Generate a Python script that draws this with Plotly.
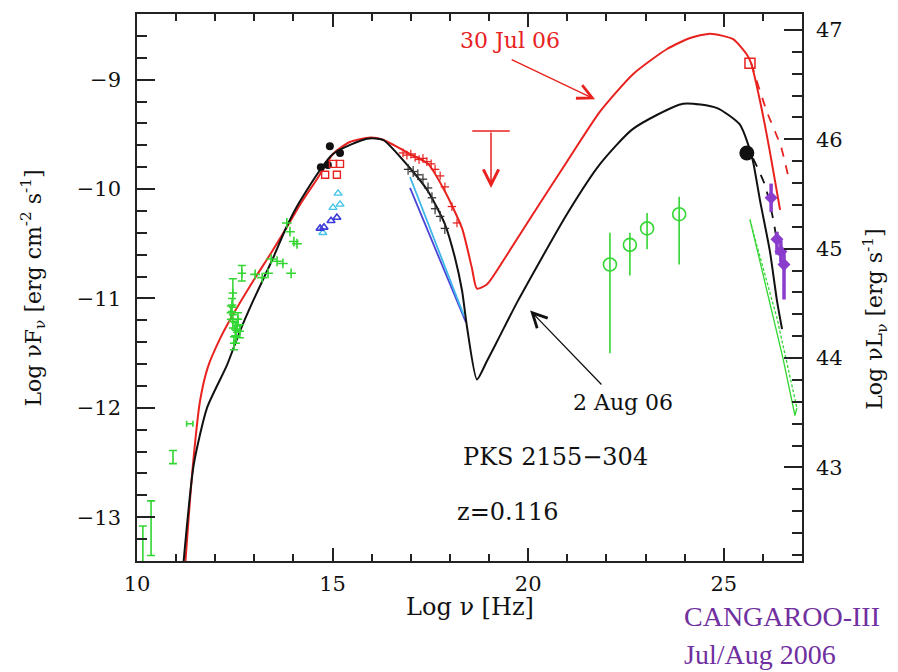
import plotly.graph_objects as go

# ---------------- model curves (log nu [Hz], log nuFnu [erg cm^-2 s^-1]) ----------------
jul30_x = [11.23, 11.41, 11.61, 11.81, 12.12, 12.45, 12.97, 13.40, 13.83, 14.17, 14.60, 15.01,
           15.44, 15.96, 16.29, 16.98, 17.44, 17.87, 18.31, 18.56, 18.69, 18.95, 19.46, 20.12,
           20.99, 21.84, 22.68, 23.55, 24.14, 24.65, 25.24, 25.59, 25.70, 25.93, 26.18, 26.44]
jul30_y = [-13.45, -12.60, -11.94, -11.63, -11.37, -11.15, -10.84, -10.60, -10.35, -10.14, -9.91, -9.68,
           -9.57, -9.53, -9.55, -9.68, -9.77, -10.02, -10.36, -10.72, -10.91, -10.87, -10.60, -10.23,
           -9.75, -9.29, -8.95, -8.72, -8.62, -8.58, -8.63, -8.77, -8.85, -9.20, -9.66, -10.19]
jul30_dash_x = [25.70, 26.10, 26.46, 26.64]
jul30_dash_y = [-8.85, -9.29, -9.61, -9.87]

aug2_x = [11.18, 11.45, 11.79, 12.30, 12.63, 12.97, 13.48, 13.83, 14.17, 15.01, 15.88, 16.29,
          16.98, 17.44, 17.87, 18.13, 18.31, 18.44, 18.69, 18.95, 19.28, 19.74, 20.99, 21.84,
          22.68, 23.96, 24.83, 25.41, 25.64, 25.75, 25.93, 26.18, 26.36, 26.49]
aug2_y = [-13.45, -12.52, -12.00, -11.61, -11.30, -11.02, -10.63, -10.34, -10.11, -9.68, -9.54, -9.55,
          -9.81, -10.02, -10.32, -10.63, -10.93, -11.27, -11.74, -11.57, -11.34, -11.02, -10.23, -9.77,
          -9.45, -9.22, -9.26, -9.41, -9.61, -9.75, -10.11, -10.57, -11.02, -11.28]
aug2_dash_x = [25.75, 26.05, 26.26, 26.36]
aug2_dash_y = [-9.72, -9.96, -10.27, -10.48]

# X-ray power-law fits
xfit_blue_x = [16.98, 18.41]
xfit_blue_y = [-9.99, -11.22]
xfit_cyan_x = [16.98, 18.36]
xfit_cyan_y = [-9.89, -11.16]

# ---------------- data points ----------------
radio_x = [10.15, 10.36, 10.92]
radio_y = [-13.26, -13.10, -12.45]
radio_err = [0.18, 0.25, 0.06]
mm_x = [11.35]
mm_y = [-12.145]
mm_xerr = [0.08]

ir_bar_x = [12.45, 12.68, 12.40, 12.45, 12.51, 12.53, 12.58, 12.43, 12.63, 12.48, 12.56]
ir_bar_y = [-10.95, -10.77, -11.13, -11.21, -11.28, -11.35, -11.19, -11.06, -11.30, -11.41, -11.25]
ir_bar_err = [0.13, 0.07, 0.06, 0.06, 0.06, 0.06, 0.06, 0.06, 0.06, 0.06, 0.06]

ir_x = [13.02, 13.20, 13.35, 13.43, 13.58, 13.73, 13.83, 13.91, 14.01, 14.09, 13.94]
ir_y = [-10.78, -10.81, -10.77, -10.64, -10.66, -10.68, -10.31, -10.39, -10.48, -10.50, -10.77]

opt_aug_x = [14.93, 15.19, 14.70, 14.88]
opt_aug_y = [-9.61, -9.67, -9.80, -9.78]
opt_jul_x = [14.81, 15.11, 15.01, 15.19]
opt_jul_y = [-9.87, -9.87, -9.77, -9.77]

uv_cyan_x = [15.14, 15.19, 15.01, 14.75]
uv_cyan_y = [-10.04, -10.14, -10.17, -10.40]
uv_blue_x = [15.11, 14.96, 14.78, 14.68]
uv_blue_y = [-10.26, -10.29, -10.35, -10.36]

xr_jul_x = [16.80, 16.90, 17.00, 17.11, 17.21, 17.31, 17.41, 17.52, 17.62, 17.75, 17.87, 18.05, 18.18]
xr_jul_y = [-9.67, -9.69, -9.68, -9.71, -9.73, -9.72, -9.75, -9.77, -9.82, -9.88, -9.98, -10.16, -10.31]
xr_aug_x = [16.93, 17.06, 17.18, 17.31, 17.44, 17.54, 17.62, 17.75, 17.87]
xr_aug_y = [-9.82, -9.84, -9.87, -9.91, -9.99, -10.08, -10.18, -10.25, -10.36]

ul_x, ul_y, ul_halfwidth, ul_arrow_to = 19.05, -9.47, 0.48, -9.99

gev_x = [22.09, 22.60, 23.04, 23.86]
gev_y = [-10.69, -10.51, -10.36, -10.23]
gev_up = [0.29, 0.11, 0.14, 0.16]
gev_dn = [0.81, 0.28, 0.19, 0.46]

# TeV bowtie: outer (solid) and inner (dashed) edges
bowtie_outer_x = [25.67, 26.51, 26.82, 26.87]
bowtie_outer_y = [-10.28, -11.54, -12.07, -12.00]
bowtie_inner_x = [25.67, 25.75, 26.36, 26.87]
bowtie_inner_y = [-10.28, -10.39, -11.18, -12.00]

tev_x = [26.21, 26.36, 26.46, 26.54]
tev_y = [-10.08, -10.46, -10.57, -10.69]
tev_up = [0.13, 0.07, 0.10, 0.14]
tev_dn = [0.13, 0.14, 0.10, 0.32]

hess_aug_x, hess_aug_y = [25.59], [-9.67]
hess_jul_x, hess_jul_y = [25.67], [-8.85]

# axis scales: log nuL_nu = log nuF_nu + offset
lum_offset = 55.545
x_range = [10, 27]
y_range = [-13.4, -8.4]

RED = "#e8221f"
BLACK = "#111111"
GREEN = "#33d633"
PURPLE = "#8a3dcc"
FONT = "DejaVu Serif"

fig = go.Figure()

def line(x, y, color, width=2.0, dash="solid", shape="spline"):
    fig.add_trace(go.Scatter(x=x, y=y, mode="lines",
                             line=dict(color=color, width=width, dash=dash, shape=shape, smoothing=0.6),
                             hoverinfo="skip", showlegend=False))

# power-law fits and models
line(xfit_blue_x, xfit_blue_y, "#4a44d6", 1.8, shape="linear")
line(xfit_cyan_x, xfit_cyan_y, "#3fb6ea", 1.8, shape="linear")
line(jul30_x, jul30_y, RED, 2.0)
line(jul30_dash_x, jul30_dash_y, RED, 1.8, dash="dash")
line(aug2_x, aug2_y, BLACK, 2.0)
line(aug2_dash_x, aug2_dash_y, BLACK, 1.8, dash="dash")

# green radio / mm points
fig.add_trace(go.Scatter(x=radio_x, y=radio_y, mode="markers",
                         marker=dict(size=1, color=GREEN),
                         error_y=dict(type="data", array=radio_err, color=GREEN, thickness=1.6, width=4),
                         hoverinfo="skip", showlegend=False))
fig.add_trace(go.Scatter(x=mm_x, y=mm_y, mode="markers",
                         marker=dict(size=1, color=GREEN),
                         error_x=dict(type="data", array=mm_xerr, color=GREEN, thickness=1.6, width=3),
                         hoverinfo="skip", showlegend=False))
fig.add_trace(go.Scatter(x=ir_bar_x, y=ir_bar_y, mode="markers",
                         marker=dict(symbol="cross-thin", size=6, line=dict(color=GREEN, width=1.6)),
                         error_y=dict(type="data", array=ir_bar_err, color=GREEN, thickness=1.5, width=4),
                         hoverinfo="skip", showlegend=False))
fig.add_trace(go.Scatter(x=ir_x, y=ir_y, mode="markers",
                         marker=dict(symbol="cross-thin", size=7, line=dict(color=GREEN, width=1.6)),
                         hoverinfo="skip", showlegend=False))

# optical / UV
fig.add_trace(go.Scatter(x=opt_aug_x, y=opt_aug_y, mode="markers",
                         marker=dict(symbol="circle", size=8, color=BLACK),
                         hoverinfo="skip", showlegend=False))
fig.add_trace(go.Scatter(x=opt_jul_x, y=opt_jul_y, mode="markers",
                         marker=dict(symbol="square-open", size=7, color=RED, line=dict(width=1.4)),
                         hoverinfo="skip", showlegend=False))
fig.add_trace(go.Scatter(x=uv_cyan_x, y=uv_cyan_y, mode="markers",
                         marker=dict(symbol="triangle-up-open", size=7, color="#44c4e6", line=dict(width=1.4)),
                         hoverinfo="skip", showlegend=False))
fig.add_trace(go.Scatter(x=uv_blue_x, y=uv_blue_y, mode="markers",
                         marker=dict(symbol="triangle-up-open", size=7, color="#3c3cd8", line=dict(width=1.6)),
                         hoverinfo="skip", showlegend=False))

# X-ray spectra
fig.add_trace(go.Scatter(x=xr_aug_x, y=xr_aug_y, mode="markers",
                         marker=dict(symbol="line-ew", size=6, line=dict(color="#333333", width=1.3)),
                         error_y=dict(type="data", array=[0.05] * len(xr_aug_x), color="#333333",
                                      thickness=1.2, width=0),
                         hoverinfo="skip", showlegend=False))
fig.add_trace(go.Scatter(x=xr_jul_x, y=xr_jul_y, mode="markers",
                         marker=dict(symbol="line-ew", size=6, line=dict(color=RED, width=1.3)),
                         error_y=dict(type="data", array=[0.04] * len(xr_jul_x), color=RED,
                                      thickness=1.2, width=0),
                         hoverinfo="skip", showlegend=False))

# hard X-ray upper limit
fig.add_trace(go.Scatter(x=[ul_x], y=[ul_y], mode="markers", marker=dict(size=1, color=RED),
                         error_x=dict(type="data", array=[ul_halfwidth], color=RED, thickness=1.6, width=0),
                         hoverinfo="skip", showlegend=False))

# GeV points
fig.add_trace(go.Scatter(x=gev_x, y=gev_y, mode="markers",
                         marker=dict(symbol="circle-open", size=13, color=GREEN, line=dict(width=1.6)),
                         error_y=dict(type="data", symmetric=False, array=gev_up, arrayminus=gev_dn,
                                      color=GREEN, thickness=1.6, width=0),
                         hoverinfo="skip", showlegend=False))

# TeV bowtie and spectra
line(bowtie_outer_x, bowtie_outer_y, GREEN, 1.3, shape="linear")
line(bowtie_inner_x, bowtie_inner_y, GREEN, 1.3, dash="3px,2px", shape="linear")
fig.add_trace(go.Scatter(x=hess_aug_x, y=hess_aug_y, mode="markers",
                         marker=dict(symbol="circle", size=15, color=BLACK),
                         hoverinfo="skip", showlegend=False))
fig.add_trace(go.Scatter(x=hess_jul_x, y=hess_jul_y, mode="markers",
                         marker=dict(symbol="square-open", size=10, color=RED, line=dict(width=1.5)),
                         hoverinfo="skip", showlegend=False))
fig.add_trace(go.Scatter(x=tev_x, y=tev_y, mode="markers",
                         marker=dict(symbol="diamond", size=10, color=PURPLE),
                         error_y=dict(type="data", symmetric=False, array=tev_up, arrayminus=tev_dn,
                                      color=PURPLE, thickness=3.5, width=0),
                         hoverinfo="skip", showlegend=False))

# luminosity axis carrier
fig.add_trace(go.Scatter(x=[], y=[], yaxis="y2", showlegend=False, hoverinfo="skip"))

tickfont = dict(family=FONT, size=21, color="#111")
axis_common = dict(showgrid=False, zeroline=False, showline=True, linecolor="#222", linewidth=1.6,
                   ticks="inside", tickcolor="#222", tickwidth=1.5, tickfont=tickfont)

fig.update_layout(
    width=898, height=672,
    margin=dict(l=137, r=96, t=12, b=111),
    paper_bgcolor="white", plot_bgcolor="white",
    showlegend=False,
    xaxis=dict(range=x_range, tickvals=[10, 15, 20, 25], ticklen=13, mirror="ticks",
               minor=dict(dtick=1, ticklen=7, ticks="inside", tickcolor="#222"),
               ticklabelstandoff=3, **axis_common),
    yaxis=dict(range=y_range, dtick=1, ticklen=18, mirror=False,
               minor=dict(dtick=0.2, ticklen=10, ticks="inside", tickcolor="#222"),
               ticklabelstandoff=10, **axis_common),
    yaxis2=dict(range=[y_range[0] + lum_offset, y_range[1] + lum_offset], dtick=1, ticklen=18,
                overlaying="y", side="right",
                minor=dict(dtick=0.2, ticklen=10, ticks="inside", tickcolor="#222"),
                ticklabelstandoff=8, **axis_common),
)

title_font = dict(family=FONT, size=22, color="#111")
annotations = [
    dict(x=-0.1564, y=0.5, xref="paper", yref="paper", xanchor="center", yanchor="middle",
         textangle=-90, showarrow=False,
         text="Log \u03bdF<sub>\u03bd</sub> [erg cm<sup>-2</sup> s<sup>-1</sup>]", font=title_font),
    dict(x=1.1098, y=0.441, xref="paper", yref="paper", xanchor="center", yanchor="middle",
         textangle=-90, showarrow=False,
         text="Log \u03bdL<sub>\u03bd</sub> [erg s<sup>-1</sup>]", font=title_font),
    dict(x=0.5, y=-0.084, xref="paper", yref="paper", xanchor="center", yanchor="middle",
         showarrow=False, text="Log \u03bd [Hz]", font=dict(family=FONT, size=24, color="#111")),
    dict(x=19.54, y=-8.64, xref="x", yref="y", xanchor="center", yanchor="middle",
         showarrow=False, text="30 Jul 06", font=dict(family=FONT, size=22, color=RED)),
    dict(x=22.42, y=-11.95, xref="x", yref="y", xanchor="center", yanchor="middle",
         showarrow=False, text="2 Aug 06", font=dict(family=FONT, size=22, color="#111")),
    dict(x=20.71, y=-12.45, xref="x", yref="y", xanchor="center", yanchor="middle",
         showarrow=False, text="PKS 2155\u2212304", font=dict(family=FONT, size=24, color="#111")),
    dict(x=19.47, y=-12.95, xref="x", yref="y", xanchor="center", yanchor="middle",
         showarrow=False, text="z=0.116", font=dict(family=FONT, size=24, color="#111")),
    # pointer arrows
    dict(x=21.71, y=-9.18, ax=19.54, ay=-8.81, xref="x", yref="y", axref="x", ayref="y",
         showarrow=True, arrowhead=5, arrowsize=2.2, arrowwidth=1.3, arrowcolor=RED, text=""),
    dict(x=20.05, y=-11.11, ax=21.91, ay=-11.80, xref="x", yref="y", axref="x", ayref="y",
         showarrow=True, arrowhead=5, arrowsize=2.2, arrowwidth=1.3, arrowcolor=BLACK, text=""),
    dict(x=ul_x, y=ul_arrow_to, ax=ul_x, ay=ul_y, xref="x", yref="y", axref="x", ayref="y",
         showarrow=True, arrowhead=5, arrowsize=2.0, arrowwidth=1.5, arrowcolor=RED, text=""),
    # instrument / epoch label
    dict(x=0.8195, y=-0.102, xref="paper", yref="paper", xanchor="left", yanchor="middle",
         showarrow=False, text="CANGAROO-III",
         font=dict(family="Liberation Serif", size=28, color="#7030a0")),
    dict(x=0.8195, y=-0.171, xref="paper", yref="paper", xanchor="left", yanchor="middle",
         showarrow=False, text="Jul/Aug 2006",
         font=dict(family="Liberation Serif", size=28, color="#7030a0")),
]
fig.update_layout(annotations=annotations)

fig.write_html("out.html")
